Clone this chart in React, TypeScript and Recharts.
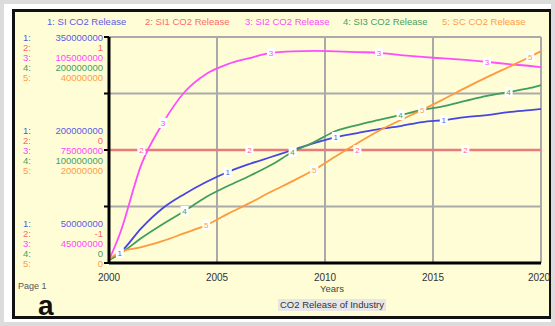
import { LineChart, Line, XAxis, YAxis, CartesianGrid } from "recharts";

// Stella-style run chart: five CO2 release series, each on its own scale.
// Values in millions of tonnes; sampled at the marker half-years plus ends.
const years = [
  2000, 2000.5, 2001.5, 2002.5, 2003.5, 2004.5, 2005.5, 2006.5, 2007.5, 2008.5, 2009.5,
  2010.5, 2011.5, 2012.5, 2013.5, 2014.5, 2015.5, 2016.5, 2017.5, 2018.5, 2019.5, 2020,
];
const siRelease = [
  54.0, 63.3, 96.4, 123.0, 141.6, 157.5, 170.8, 181.4, 190.7, 200.0, 209.2, 217.2, 222.5,
  227.8, 231.8, 237.1, 239.8, 243.7, 246.4, 250.4, 253.0, 254.4,
];
const si1Release = [0, 0, 0, 0, 0, 0, 0, 0, 0, 0, 0, 0, 0, 0, 0, 0, 0, 0, 0, 0, 0, 0];
const si2Release = [
  45.8, 52.7, 71.2, 82.2, 90.4, 95.2, 97.8, 99.4, 100.8, 101.2, 101.3, 101.2, 101.0, 100.8,
  100.2, 99.7, 99.3, 98.9, 98.4, 97.8, 97.3, 97.0,
];
const si3Release = [
  2.7, 8.0, 22.1, 34.5, 46.0, 58.4, 68.1, 77.0, 86.7, 98.2, 107.1, 116.8, 122.1, 126.6,
  131.0, 135.4, 138.9, 143.4, 147.8, 151.3, 154.9, 157.5,
];
const scRelease = [
  0.7, 1.9, 2.8, 3.9, 5.3, 6.7, 8.7, 10.6, 12.6, 14.5, 16.5, 18.9, 21.2, 23.4, 25.3, 27.1,
  29.0, 31.0, 32.9, 34.7, 36.5, 37.5,
];

const seriesNames = [
  "1: SI CO2 Release",
  "2: SI1 CO2 Release",
  "3: SI2 CO2 Release",
  "4: SI3 CO2 Release",
  "5: SC CO2 Release",
];
const xTicks = [2000, 2005, 2010, 2015, 2020];
// scale labels on the left, one entry per series (top / middle / bottom)
const scaleTop = ["350000000", "1", "105000000", "200000000", "40000000"];
const scaleMid = ["200000000", "0", "75000000", "100000000", "20000000"];
const scaleBot = ["50000000", "-1", "45000000", "0", "0"];
const domains: [number, number][] = [
  [50, 350],
  [-1, 1],
  [45, 105],
  [0, 200],
  [0, 40],
];
const siTicks = [50, 125, 200, 275, 350];

const data = years.map((year, i) => ({
  year,
  s1: siRelease[i],
  s2: si1Release[i],
  s3: si2Release[i],
  s4: si3Release[i],
  s5: scRelease[i],
}));

const FONT = "'Liberation Sans', Arial, sans-serif";
const lineColors = ["#4646e0", "#e87c7c", "#ff4cff", "#3f9e5e", "#ff9a3c"];
const textColors = ["#5a5ae8", "#ff6a6a", "#ff48ff", "#46a062", "#ff9c44"];
const legendX = [47, 145, 245, 343, 442];

// numbered tag on the line, every 5 years, staggered by series
const marker = (k: number) => (props: any) => {
  const { cx, cy, index } = props;
  if (index < k || index > 20 || (index - k) % 5 !== 0) return <g key={index} />;
  return (
    <g key={index}>
      <rect x={cx - 4} y={cy - 5} width={8} height={10} fill="#ffffff" />
      <text x={cx} y={cy + 3} textAnchor="middle" fontSize={8} fontFamily={FONT} fill={textColors[k - 1]}>
        {k}
      </text>
    </g>
  );
};

const ScaleTick = (props: any) => {
  const { y, payload } = props;
  let labels: string[] | null = null;
  let start = 0;
  if (payload.value === 350) {
    labels = scaleTop;
    start = 0;
  } else if (payload.value === 200) {
    labels = scaleMid;
    start = -20;
  } else if (payload.value === 50) {
    labels = scaleBot;
    start = -40;
  }
  if (!labels) return <g />;
  return (
    <g>
      {labels.map((t, i) => (
        <g key={i}>
          <text x={23} y={y + start + i * 10 + 3.5} fontSize={9.5} fontFamily={FONT} fill={textColors[i]}>
            {i + 1}:
          </text>
          <text x={103} y={y + start + i * 10 + 3.5} fontSize={9.5} fontFamily={FONT} fill={textColors[i]} textAnchor="end">
            {t}
          </text>
        </g>
      ))}
    </g>
  );
};

const YearTick = (props: any) => {
  const { x, payload } = props;
  return (
    <text x={x} y={281} textAnchor="middle" fontSize={10} fontFamily={FONT} fill="#333">
      {payload.value}
    </text>
  );
};

export default function App() {
  return (
    <div
      style={{
        position: "absolute",
        left: 0,
        top: 0,
        width: 555,
        height: 326,
        background: "#ffffff",
        boxSizing: "border-box",
        border: "4px solid #dcdcdc",
        fontFamily: FONT,
        overflow: "hidden",
      }}
    >
      <div
        style={{
          position: "absolute",
          left: 8,
          top: 5,
          width: 540,
          height: 310,
          boxSizing: "border-box",
          border: "3px solid #111",
          background: "#fffdd6",
        }}
      />
      {seriesNames.map((n, i) => (
        <div
          key={n}
          style={{
            position: "absolute",
            left: legendX[i] - 4,
            top: 12,
            fontSize: 9.5,
            color: textColors[i],
            whiteSpace: "nowrap",
          }}
        >
          {n}
        </div>
      ))}
      <div style={{ position: "absolute", left: -4, top: -4 }}>
        <LineChart width={555} height={326} data={data} margin={{ top: 37, right: 14, bottom: 43, left: 9 }}>
          <CartesianGrid yAxisId="s1" stroke="#aaaaaa" strokeWidth={2} />
          <XAxis
            dataKey="year"
            type="number"
            domain={[2000, 2020]}
            ticks={xTicks}
            height={20}
            axisLine={{ stroke: "#000", strokeWidth: 3 }}
            tickLine={false}
            tick={<YearTick />}
          />
          <YAxis
            yAxisId="s1"
            width={100}
            domain={domains[0]}
            ticks={siTicks}
            axisLine={{ stroke: "#000", strokeWidth: 3 }}
            tickLine={{ stroke: "#000", strokeWidth: 2 }}
            tickSize={5}
            tick={<ScaleTick />}
            interval={0}
          />
          <YAxis yAxisId="s2" hide domain={domains[1]} />
          <YAxis yAxisId="s3" hide domain={domains[2]} />
          <YAxis yAxisId="s4" hide domain={domains[3]} />
          <YAxis yAxisId="s5" hide domain={domains[4]} />
          <Line yAxisId="s2" dataKey="s2" type="linear" stroke={lineColors[1]} strokeWidth={2.5} dot={marker(2)} isAnimationActive={false} />
          <Line yAxisId="s1" dataKey="s1" type="monotone" stroke={lineColors[0]} strokeWidth={1.8} dot={marker(1)} isAnimationActive={false} />
          <Line yAxisId="s3" dataKey="s3" type="monotone" stroke={lineColors[2]} strokeWidth={1.8} dot={marker(3)} isAnimationActive={false} />
          <Line yAxisId="s4" dataKey="s4" type="monotone" stroke={lineColors[3]} strokeWidth={1.8} dot={marker(4)} isAnimationActive={false} />
          <Line yAxisId="s5" dataKey="s5" type="monotone" stroke={lineColors[4]} strokeWidth={1.8} dot={marker(5)} isAnimationActive={false} />
        </LineChart>
      </div>
      <div style={{ position: "absolute", left: 14, top: 277, fontSize: 9, color: "#555", lineHeight: "10px" }}>Page 1</div>
      <div style={{ position: "absolute", left: 34, top: 294, fontSize: 28, fontWeight: 700, color: "#111", lineHeight: "16px" }}>
        a
      </div>
      <div style={{ position: "absolute", left: 316, top: 279, fontSize: 9.5, color: "#444" }}>Years</div>
      <div
        style={{
          position: "absolute",
          left: 274,
          top: 295,
          fontSize: 9.5,
          color: "#333",
          background: "#e6e6e6",
          padding: "0 2px",
          lineHeight: "12px",
        }}
      >
        CO2 Release of Industry
      </div>
    </div>
  );
}
